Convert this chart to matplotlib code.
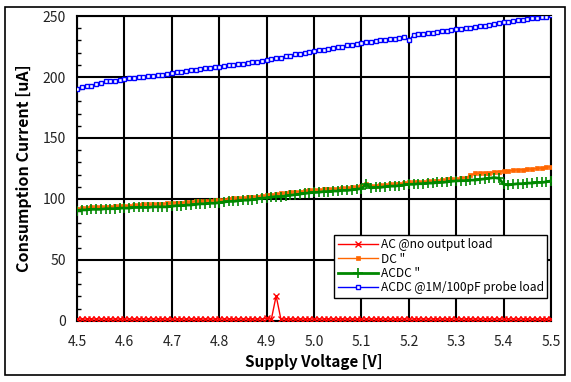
import matplotlib
matplotlib.use("Agg")
import matplotlib.pyplot as plt
from matplotlib.ticker import MultipleLocator
from matplotlib.patches import Rectangle

plt.rcParams['font.family'] = ['Noto Sans CJK KR', 'DejaVu Sans']

voltage = [round(4.50 + 0.01 * i, 2) for i in range(101)]

ac_noload = [1.5, 1.5, 1.5, 1.5, 1.5, 1.5, 1.5, 1.5, 1.5, 1.5,
             1.5, 1.5, 1.5, 1.5, 1.5, 1.5, 1.5, 1.5, 1.5, 1.5,
             1.5, 1.5, 1.5, 1.5, 1.5, 1.5, 1.5, 1.5, 1.5, 1.5,
             1.5, 1.5, 1.5, 1.5, 1.5, 1.5, 1.5, 1.5, 1.5, 1.5,
             2.0, 1.5, 20.5, 1.5, 1.5, 1.5, 1.5, 1.5, 1.5, 1.5,
             1.5, 1.5, 1.5, 1.5, 1.5, 1.5, 1.5, 1.5, 1.5, 1.5,
             1.5, 1.5, 1.5, 1.5, 1.5, 1.5, 1.5, 1.5, 1.5, 1.5,
             1.5, 1.5, 1.5, 1.5, 1.5, 1.5, 1.5, 1.5, 1.5, 1.5,
             1.5, 1.5, 1.5, 1.5, 1.5, 1.5, 1.5, 1.5, 1.5, 1.5,
             1.5, 1.5, 1.5, 1.5, 1.5, 1.5, 1.5, 1.5, 1.5, 1.5,
             1.5]

dc = [92.0, 92.5, 92.5, 93.0, 93.0, 93.5, 93.5, 93.5, 94.0, 94.0,
      94.5, 94.5, 95.0, 95.0, 95.5, 95.5, 95.5, 96.0, 96.0, 96.5,
      96.5, 97.0, 97.0, 97.5, 97.5, 98.0, 98.0, 98.5, 98.5, 99.0,
      99.0, 99.5, 100.0, 100.5, 101.0, 101.0, 101.5, 102.0, 102.0, 102.5,
      103.0, 103.5, 104.0, 104.5, 105.0, 105.5, 106.0, 106.0, 106.5, 107.0,
      107.5, 107.5, 108.0, 108.0, 108.5, 108.5, 109.0, 109.0, 109.5, 110.0,
      110.5, 112.0, 110.5, 111.0, 111.5, 111.5, 112.0, 112.0, 112.5, 113.0,
      113.5, 113.5, 114.0, 114.0, 114.5, 115.0, 115.0, 115.5, 116.0, 116.0,
      116.5, 117.0, 117.5, 119.5, 121.0, 121.0, 121.5, 121.5, 122.0, 122.5,
      123.0, 123.0, 123.5, 124.0, 124.0, 124.5, 124.5, 125.0, 125.5, 126.0,
      126.5]

acdc = [90.5, 91.0, 91.0, 91.5, 91.5, 91.5, 92.0, 92.0, 92.0, 92.5,
        92.5, 92.5, 93.0, 93.0, 93.0, 93.0, 93.5, 93.5, 93.5, 93.5,
        94.0, 94.5, 94.5, 95.0, 95.0, 95.5, 96.0, 96.0, 96.5, 96.5,
        97.0, 97.5, 98.0, 98.0, 98.5, 99.0, 99.0, 99.5, 100.0, 100.5,
        101.0, 101.5, 102.0, 102.0, 102.5, 103.0, 103.5, 104.0, 104.5, 105.0,
        105.3, 105.5, 106.0, 106.0, 106.5, 106.5, 107.0, 107.0, 107.5, 108.0,
        108.5, 112.0, 109.0, 109.5, 109.5, 110.0, 110.5, 110.5, 111.0, 111.5,
        112.0, 112.0, 112.5, 112.5, 113.0, 113.0, 113.5, 113.5, 114.0, 114.5,
        114.8, 115.0, 115.0, 115.5, 115.5, 116.0, 116.5, 117.0, 117.5, 117.0,
        112.0, 111.5, 112.0, 112.5, 112.5, 113.0, 113.0, 113.5, 113.5, 114.0,
        114.8]

acdc_probe = [190.5, 192.0, 193.0, 193.0, 194.0, 195.0, 196.5, 196.5, 196.5, 197.5,
              198.5, 199.0, 199.0, 200.0, 200.0, 200.5, 201.0, 201.5, 202.0, 202.5,
              203.5, 204.0, 204.5, 205.0, 205.5, 206.0, 206.5, 207.0, 207.5, 208.0,
              208.5, 209.0, 209.5, 210.0, 210.5, 211.0, 211.5, 212.0, 212.5, 213.0,
              214.0, 214.5, 215.5, 216.0, 217.0, 217.5, 218.5, 219.0, 220.0, 220.5,
              221.5, 222.0, 222.5, 223.0, 224.0, 224.5, 225.0, 226.0, 226.5, 227.0,
              228.0, 228.5, 229.0, 229.5, 230.0, 230.5, 231.0, 231.5, 232.0, 233.0,
              230.0, 234.5, 235.0, 235.5, 236.0, 236.5, 237.0, 237.5, 238.0, 238.5,
              239.0, 239.5, 240.0, 240.5, 241.0, 241.5, 242.0, 243.0, 243.5, 244.0,
              245.0, 245.5, 246.0, 246.5, 247.0, 247.5, 248.0, 248.5, 249.0, 249.5,
              250.5]

labels = ['AC @no output load', 'DC "', 'ACDC "', 'ACDC @1M/100pF probe load']
x_ticks = [4.5, 4.6, 4.7, 4.8, 4.9, 5.0, 5.1, 5.2, 5.3, 5.4, 5.5]
x_ticklabels = ['4.5', '4.6', '4.7', '4.8', '4.9', '5.0', '5.1', '5.2', '5.3', '5.4', '5.5']
y_ticks = [0, 50, 100, 150, 200, 250]

fig = plt.figure(figsize=(5.71, 3.82), dpi=100)
ax = fig.add_axes([0.135, 0.160, 0.830, 0.798])

ax.plot(voltage, ac_noload, color='#ff0000', lw=1.0, marker='x', ms=4, mew=1.0, label=labels[0], zorder=3)
ax.plot(voltage, dc, color='#ff6600', lw=1.0, marker='s', ms=2.5, mew=0.5, label=labels[1], zorder=3)
ax.plot(voltage, acdc, color='#008800', lw=2.0, marker='+', ms=7, mew=1.2, label=labels[2], zorder=3)
ax.plot(voltage, acdc_probe, color='#0000ff', lw=1.0, marker='s', ms=3.5, mew=1.0,
        markerfacecolor='white', label=labels[3], zorder=3)

ax.set_xlim(4.5, 5.5)
ax.set_ylim(0, 250)
ax.set_xticks(x_ticks)
ax.set_xticklabels(x_ticklabels)
ax.set_yticks(y_ticks)
ax.yaxis.set_minor_locator(MultipleLocator(10))
ax.tick_params(axis='both', which='major', length=0, labelsize=10, pad=8, colors='#222222')
ax.tick_params(axis='x', which='major', pad=10)
ax.tick_params(axis='y', which='minor', direction='in', length=3, width=1, left=True)
ax.grid(True, which='major', color='black', lw=1.5)
for s in ax.spines.values():
    s.set_color('black')
    s.set_linewidth(1.5)

ax.set_xlabel('Supply Voltage [V]', fontsize=11, fontweight='bold', labelpad=4)
ax.set_ylabel('Consumption Current [uA]', fontsize=11.5, fontweight='bold', labelpad=8)

leg = ax.legend(loc='lower right', bbox_to_anchor=(0.992, 0.075), fontsize=8.6, frameon=True,
                fancybox=False, edgecolor='black', framealpha=1, handlelength=3.4,
                handletextpad=0.2, borderpad=0.3, labelspacing=0.12, borderaxespad=0)
leg.get_frame().set_linewidth(1.0)

fig.patches.append(Rectangle((5 / 571, 7 / 382), 560 / 571, 368 / 382, transform=fig.transFigure,
                             fill=False, edgecolor='black', lw=1.2))

fig.savefig('out.png', dpi=100)
